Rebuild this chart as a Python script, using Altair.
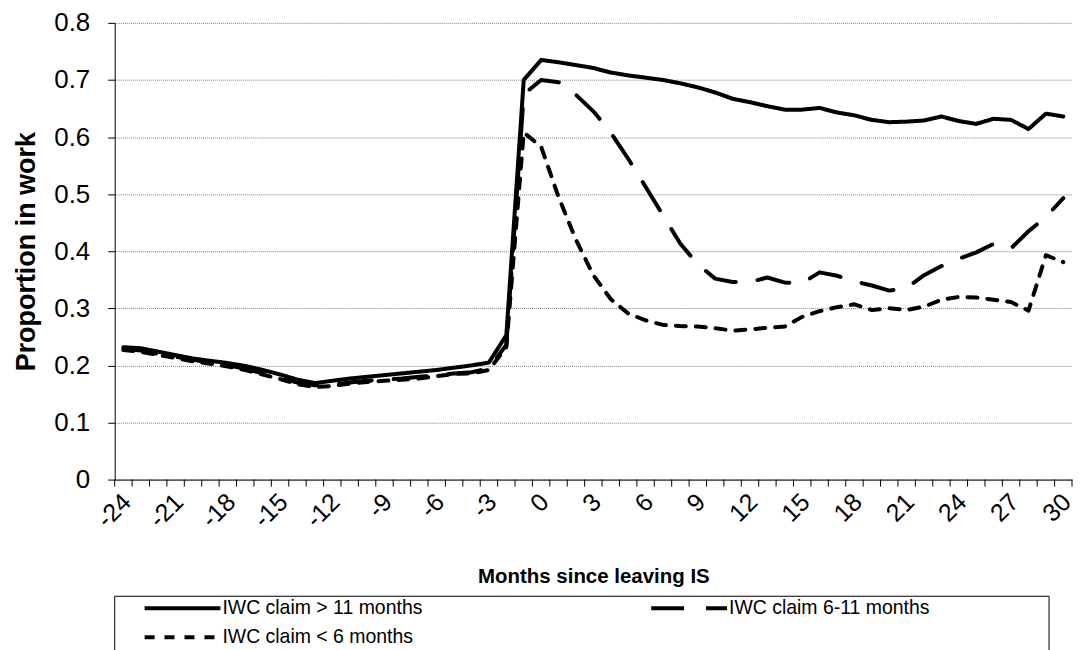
import altair as alt
import pandas as pd

months = list(range(-24, 31))

claim_over_11 = [
    0.232, 0.230, 0.224, 0.218, 0.212, 0.208, 0.204, 0.199, 0.192, 0.184,
    0.175, 0.169, 0.173, 0.177, 0.180, 0.183, 0.186, 0.189, 0.192, 0.196,
    0.200, 0.205, 0.253, 0.700,
    0.735, 0.731, 0.726, 0.721, 0.713, 0.708, 0.704, 0.700, 0.694, 0.687,
    0.678, 0.667, 0.661, 0.654, 0.648, 0.648, 0.651, 0.643, 0.638, 0.630,
    0.626, 0.627, 0.629, 0.636, 0.628, 0.623, 0.632, 0.630, 0.614, 0.641,
    0.636,
]
claim_6_11 = [
    0.229, 0.226, 0.220, 0.215, 0.210, 0.205, 0.200, 0.194, 0.186, 0.178,
    0.170, 0.165, 0.166, 0.170, 0.173, 0.175, 0.177, 0.180, 0.183, 0.186,
    0.188, 0.195, 0.236, 0.675,
    0.700, 0.696, 0.674, 0.645, 0.608, 0.562, 0.513, 0.463, 0.413, 0.377,
    0.352, 0.346, 0.346, 0.354, 0.345, 0.344, 0.363, 0.357, 0.347, 0.340,
    0.331, 0.336, 0.358, 0.374, 0.387, 0.398, 0.413, 0.405, 0.435, 0.460,
    0.493,
]
claim_under_6 = [
    0.227, 0.224, 0.218, 0.213, 0.207, 0.203, 0.198, 0.192, 0.184, 0.176,
    0.167, 0.162, 0.164, 0.168, 0.171, 0.173, 0.175, 0.177, 0.181, 0.185,
    0.186, 0.192, 0.232, 0.608,
    0.583, 0.495, 0.420, 0.358, 0.316, 0.291, 0.279, 0.271, 0.269, 0.268,
    0.265, 0.261, 0.263, 0.266, 0.268, 0.285, 0.295, 0.302, 0.307, 0.297,
    0.300, 0.297, 0.303, 0.315, 0.320, 0.319, 0.315, 0.311, 0.296, 0.393,
    0.381,
]

series_names = ["IWC claim > 11 months", "IWC claim 6-11 months", "IWC claim < 6 months"]
x_label_values = list(range(-24, 31, 3))
y_tick_values = [0, 0.1, 0.2, 0.3, 0.4, 0.5, 0.6, 0.7, 0.8]
tick_boundaries = [m - 0.5 for m in months] + [months[-1] + 0.5]

rows = []
for name, vals in zip(series_names, [claim_over_11, claim_6_11, claim_under_6]):
    for m, v in zip(months, vals):
        rows.append({"month": m, "value": v, "series": name})
df = pd.DataFrame(rows)

W, H = 960, 458
FONT = "Liberation Sans"

x_scale = alt.Scale(domain=[-24.5, 30.5], nice=False, zero=False)
y_scale = alt.Scale(domain=[0, 0.8], nice=False, zero=True)

x_axis = alt.Axis(
    values=x_label_values, labelExpr="'' + datum.value",
    labelAngle=-45, labelAlign="right", labelBaseline="middle",
    labelFontSize=25, labelPadding=18, labelOffset=3,
    ticks=False, tickSize=0, grid=False, domain=True,
    labelOverlap=False, labelFlush=False,
    title="Months since leaving IS", titleFontSize=20.5, titleFontWeight="bold",
    titleX=480, titleY=97, titleAlign="center", titleBaseline="middle",
)

lines = alt.Chart(df).mark_line(
    strokeWidth=4, strokeCap="round", strokeJoin="round", color="black"
).encode(
    x=alt.X("month:Q", scale=x_scale, axis=x_axis),
    y=alt.Y(
        "value:Q", scale=y_scale,
        axis=alt.Axis(
            values=y_tick_values, format=".1~f", labelFontSize=26, labelPadding=18,
            tickSize=7, grid=True, gridColor="#808080", gridDash=[1, 1],
            title="Proportion in work", titleFontSize=27, titleFontWeight="bold",
            titleX=-88, titleY=229, titleAngle=-90, titleAlign="center",
            titleBaseline="middle",
        ),
    ),
    strokeDash=alt.StrokeDash(
        "series:N",
        scale=alt.Scale(domain=series_names, range=[[1, 0], [33, 22], [10, 10]]),
        legend=alt.Legend(
            title=None, orient="none", legendX=56.5, legendY=575.5,
            values=series_names, direction="horizontal",
            columns=2, columnPadding=220, rowPadding=8, padding=0,
            symbolType="M-4,0L4,0", symbolSize=361, symbolStrokeWidth=4,
            symbolStrokeColor="black", symbolFillColor="transparent",
            labelFontSize=19.5, labelFont=FONT, labelColor="black",
            labelOffset=28.5, labelLimit=500,
        ),
    ),
)

ticks = alt.Chart(pd.DataFrame({"month": tick_boundaries})).mark_rule(
    color="black", strokeWidth=1
).encode(
    x=alt.X("month:Q", scale=x_scale, axis=x_axis),
    y=alt.value(H),
    y2=alt.value(H + 7),
)

box = pd.DataFrame({"side": ["top", "left", "right"]})
box_top = alt.Chart(box[box.side == "top"]).mark_rule(color="black", strokeWidth=1).encode(
    x=alt.value(0), x2=alt.value(937), y=alt.value(575)
)
box_left = alt.Chart(box[box.side == "left"]).mark_rule(color="black", strokeWidth=1).encode(
    x=alt.value(0), y=alt.value(575), y2=alt.value(720)
)
box_right = alt.Chart(box[box.side == "right"]).mark_rule(color="black", strokeWidth=1).encode(
    x=alt.value(937), y=alt.value(575), y2=alt.value(720)
)

chart = alt.layer(lines, ticks, box_top, box_left, box_right).properties(
    width=W, height=H,
    autosize=alt.AutoSizeParams(type="none"),
    padding={"left": 107, "top": 14, "right": 4, "bottom": 172},
).configure_view(stroke=None).configure_axis(
    domainColor="black", tickColor="black", labelColor="black", titleColor="black",
    labelFont=FONT, titleFont=FONT, domainWidth=1, tickWidth=1,
)

chart.save("out.html", embed_options={"renderer": "svg", "actions": False})
